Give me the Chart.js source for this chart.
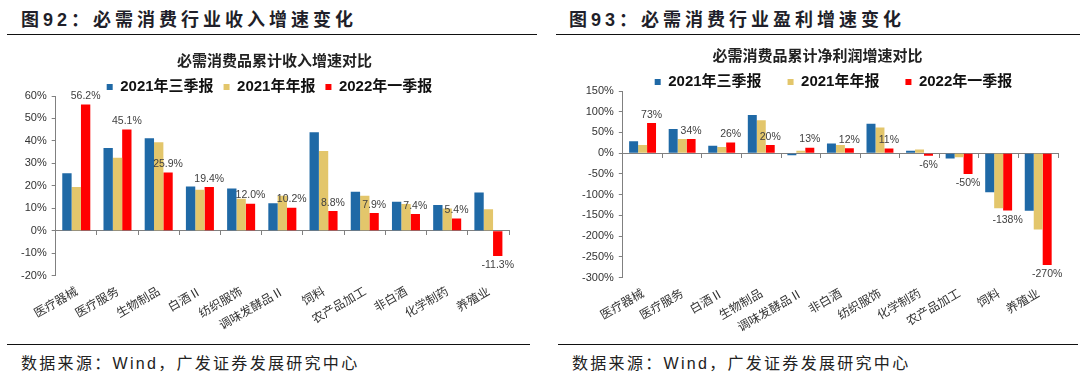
<!DOCTYPE html>
<html>
<head>
<meta charset="utf-8">
<script src="https://cdn.jsdelivr.net/npm/chart.js@4.4.1/dist/chart.umd.min.js"></script>
<style>
  html, body { margin: 0; padding: 0; background: #fff; }
  body { width: 1080px; height: 377px; position: relative; overflow: hidden; font-family: "Liberation Sans", "Noto Sans CJK SC", sans-serif; }
  .ptitle { position: absolute; top: 5px; font-weight: bold; font-size: 18px; letter-spacing: 4px; color: #1f1f2a; white-space: nowrap; }
  .rule { position: absolute; height: 0; border-top: 1.5px solid #111; }
  .src { position: absolute; top: 350px; font-size: 16px; letter-spacing: 2.3px; color: #222; white-space: nowrap; }
  .cv { position: absolute; }
</style>
</head>
<body>
<div class="ptitle" style="left:21px;">图92：必需消费行业收入增速变化</div>
<div class="ptitle" style="left:569px;">图93：必需消费行业盈利增速变化</div>
<div class="rule" style="left:7px; width:530px; top:34px;"></div>
<div class="rule" style="left:556px; width:524px; top:34px;"></div>
<div class="rule" style="left:7px; width:523px; top:344px;"></div>
<div class="rule" style="left:558px; width:520px; top:344px;"></div>
<div class="src" style="left:21px;">数据来源：Wind，广发证券发展研究中心</div>
<div class="src" style="left:572px;">数据来源：Wind，广发证券发展研究中心</div>
<div class="cv" style="left:0px; top:40px;"><canvas id="c1" width="540" height="300"></canvas></div>
<div class="cv" style="left:540px; top:35px;"><canvas id="c2" width="540" height="307"></canvas></div>
<script>
// ---------- data ----------
const seriesNames = ['2021年三季报', '2021年年报', '2022年一季报'];

const incomeTitle = '必需消费品累计收入增速对比';
const incomeCategories = ['医疗器械', '医疗服务', '生物制品', '白酒Ⅱ', '纺织服饰', '调味发酵品Ⅱ', '饲料', '农产品加工', '非白酒', '化学制药', '养殖业'];
const income2021Q3 = [25.6, 36.8, 41.2, 19.7, 18.8, 12.2, 43.9, 17.3, 12.9, 11.4, 17.0];
const income2021FY = [19.4, 32.5, 39.4, 18.2, 14.2, 15.5, 35.5, 15.5, 11.9, 9.9, 9.5];
const income2022Q1 = [56.2, 45.1, 25.9, 19.4, 12.0, 10.2, 8.8, 7.9, 7.4, 5.4, -11.3];
const incomeAxis = { min: -20, max: 60, step: 10 };

const profitTitle = '必需消费品累计净利润增速对比';
const profitCategories = ['医疗器械', '医疗服务', '白酒Ⅱ', '生物制品', '调味发酵品Ⅱ', '非白酒', '纺织服饰', '化学制药', '农产品加工', '饲料', '养殖业'];
const profit2021Q3 = [29, 58.5, 18, 92, -5, 23.5, 70.7, 5.6, -13, -94, -139];
const profit2021FY = [19.5, 34, 15, 79.5, 6, 19.5, 62, 9, -10, -133, -184];
const profit2022Q1 = [73, 34, 26, 20, 13, 12, 11, -6, -50, -138, -270];
const profitAxis = { min: -300, max: 150, step: 50 };

const colors = ['#1F69A6', '#E3C66B', '#FF0000'];

// ---------- helpers ----------
const labelPlugin = {
  id: 'redLabels',
  afterDatasetsDraw(chart, args, opts) {
    const ctx = chart.ctx;
    const meta = chart.getDatasetMeta(2);
    const data = chart.data.datasets[2].data;
    ctx.save();
    ctx.font = '10.5px "Liberation Sans", Arial, sans-serif';
    ctx.fillStyle = '#404040';
    ctx.textAlign = 'center';
    meta.data.forEach((bar, i) => {
      const v = data[i];
      const txt = (opts.decimals ? v.toFixed(opts.decimals) : Math.round(v)) + '%';
      if (v >= 0) { ctx.textBaseline = 'bottom'; ctx.fillText(txt, bar.x, bar.y - 3); }
      else { ctx.textBaseline = 'top'; ctx.fillText(txt, bar.x, bar.y + 4); }
    });
    ctx.restore();
  }
};

function shiftBox(chart, box, dx, dy) {
  const od = box.draw;
  box.draw = function () {
    const b = this.bottom;
    this.bottom = b - dy + 10;
    chart.ctx.save(); chart.ctx.translate(dx, dy); od.apply(this, arguments); chart.ctx.restore();
    this.bottom = b;
  };
}

const headerTweak = {
  id: 'headerTweak',
  beforeInit(chart, args, opts) {
    const lg = chart.legend;
    const extra = (opts.legendPad || 10) - 10;
    const orig = lg.fit;
    lg.fit = function () { orig.apply(lg, arguments); this.height -= 8.5 + extra; };
    shiftBox(chart, lg, opts.legendDx || 0, -extra);
    if (chart.titleBlock) shiftBox(chart, chart.titleBlock, opts.titleDx || 0, 0);
  }
};

function makeChart(id, title, cats, s1, s2, s3, axis, decimals, pad, legendPad, titleDx, legendDx) {
  return new Chart(document.getElementById(id), {
    type: 'bar',
    data: {
      labels: cats,
      datasets: [s1, s2, s3].map((d, i) => ({
        label: seriesNames[i], data: d, backgroundColor: colors[i],
        barPercentage: 1, categoryPercentage: 0.68
      }))
    },
    options: {
      responsive: false, animation: false, devicePixelRatio: 1,
      layout: { padding: pad },
      plugins: {
        title: { display: true, text: title, color: '#222',
          font: { family: '"Noto Sans CJK SC", sans-serif', size: 15, weight: 'bold' },
          padding: { top: 11, bottom: 0.5 } },
        legend: { display: true, position: 'top',
          labels: { boxWidth: 6, boxHeight: 6, padding: legendPad, color: '#111',
            font: { family: '"Liberation Sans", "Noto Sans CJK SC", sans-serif', size: 15, weight: 'bold' } } },
        tooltip: { enabled: false },
        redLabels: { decimals: decimals },
        headerTweak: { titleDx: titleDx, legendDx: legendDx, legendPad: legendPad }
      },
      scales: {
        x: {
          grid: { display: false, drawTicks: false }, border: { display: false },
          ticks: { autoSkip: false, minRotation: 30, maxRotation: 30, padding: 8, color: '#333',
            font: { family: '"Noto Sans CJK SC", sans-serif', size: 12 } }
        },
        x0: {
          type: 'category', position: { y: 0 }, offset: true,
          grid: { offset: true, drawOnChartArea: false, drawTicks: true, tickLength: 4, color: '#808080' },
          border: { display: true, color: '#808080', width: 1 },
          ticks: { display: false }
        },
        y: {
          min: axis.min, max: axis.max,
          grid: { drawOnChartArea: false, drawTicks: true, tickLength: 4, color: '#808080' },
          border: { display: true, color: '#808080' },
          ticks: { stepSize: axis.step, padding: 5, color: '#333',
            font: { family: '"Liberation Sans", Arial, sans-serif', size: 11 },
            callback: v => v + '%' }
        }
      }
    },
    plugins: [labelPlugin, headerTweak]
  });
}

makeChart('c1', incomeTitle, incomeCategories, income2021Q3, income2021FY, income2022Q1, incomeAxis, 1,
  { left: 16, right: 31, top: 0, bottom: 0 }, 10, 12, 7);
makeChart('c2', profitTitle, profitCategories, profit2021Q3, profit2021FY, profit2022Q1, profitAxis, 0,
  { left: 37, right: 22, top: 0, bottom: 0 }, 26, 0, 16);
</script>
</body>
</html>
